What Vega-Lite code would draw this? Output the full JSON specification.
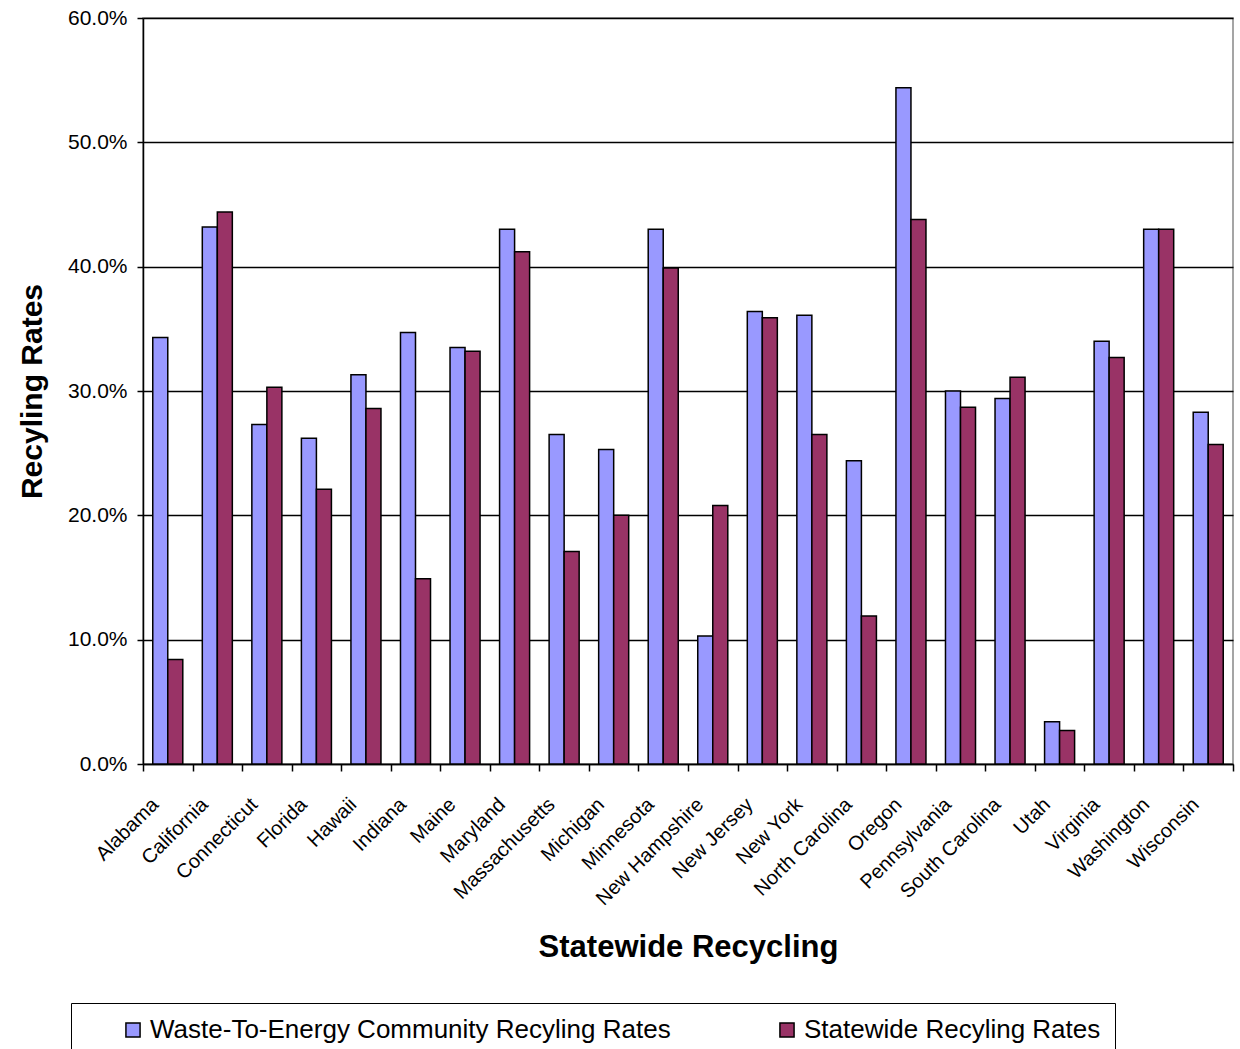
{
  "$schema": "https://vega.github.io/schema/vega-lite/v6.json",
  "autosize": {"type": "none"},
  "width": 1090,
  "height": 746,
  "padding": {"left": 143, "top": 18, "right": 7, "bottom": 285},
  "background": "white",
  "config": {
    "font": "Liberation Sans",
    "view": {"stroke": "#888888", "strokeWidth": 1.5}
  },
  "data": {
    "values": [
      {"state": "Alabama", "series": "Waste-To-Energy Community Recyling Rates", "rate": 0.343},
      {"state": "Alabama", "series": "Statewide Recyling Rates", "rate": 0.084},
      {"state": "California", "series": "Waste-To-Energy Community Recyling Rates", "rate": 0.432},
      {"state": "California", "series": "Statewide Recyling Rates", "rate": 0.444},
      {"state": "Connecticut", "series": "Waste-To-Energy Community Recyling Rates", "rate": 0.273},
      {"state": "Connecticut", "series": "Statewide Recyling Rates", "rate": 0.303},
      {"state": "Florida", "series": "Waste-To-Energy Community Recyling Rates", "rate": 0.262},
      {"state": "Florida", "series": "Statewide Recyling Rates", "rate": 0.221},
      {"state": "Hawaii", "series": "Waste-To-Energy Community Recyling Rates", "rate": 0.313},
      {"state": "Hawaii", "series": "Statewide Recyling Rates", "rate": 0.286},
      {"state": "Indiana", "series": "Waste-To-Energy Community Recyling Rates", "rate": 0.347},
      {"state": "Indiana", "series": "Statewide Recyling Rates", "rate": 0.149},
      {"state": "Maine", "series": "Waste-To-Energy Community Recyling Rates", "rate": 0.335},
      {"state": "Maine", "series": "Statewide Recyling Rates", "rate": 0.332},
      {"state": "Maryland", "series": "Waste-To-Energy Community Recyling Rates", "rate": 0.430},
      {"state": "Maryland", "series": "Statewide Recyling Rates", "rate": 0.412},
      {"state": "Massachusetts", "series": "Waste-To-Energy Community Recyling Rates", "rate": 0.265},
      {"state": "Massachusetts", "series": "Statewide Recyling Rates", "rate": 0.171},
      {"state": "Michigan", "series": "Waste-To-Energy Community Recyling Rates", "rate": 0.253},
      {"state": "Michigan", "series": "Statewide Recyling Rates", "rate": 0.200},
      {"state": "Minnesota", "series": "Waste-To-Energy Community Recyling Rates", "rate": 0.430},
      {"state": "Minnesota", "series": "Statewide Recyling Rates", "rate": 0.399},
      {"state": "New Hampshire", "series": "Waste-To-Energy Community Recyling Rates", "rate": 0.103},
      {"state": "New Hampshire", "series": "Statewide Recyling Rates", "rate": 0.208},
      {"state": "New Jersey", "series": "Waste-To-Energy Community Recyling Rates", "rate": 0.364},
      {"state": "New Jersey", "series": "Statewide Recyling Rates", "rate": 0.359},
      {"state": "New York", "series": "Waste-To-Energy Community Recyling Rates", "rate": 0.361},
      {"state": "New York", "series": "Statewide Recyling Rates", "rate": 0.265},
      {"state": "North Carolina", "series": "Waste-To-Energy Community Recyling Rates", "rate": 0.244},
      {"state": "North Carolina", "series": "Statewide Recyling Rates", "rate": 0.119},
      {"state": "Oregon", "series": "Waste-To-Energy Community Recyling Rates", "rate": 0.544},
      {"state": "Oregon", "series": "Statewide Recyling Rates", "rate": 0.438},
      {"state": "Pennsylvania", "series": "Waste-To-Energy Community Recyling Rates", "rate": 0.300},
      {"state": "Pennsylvania", "series": "Statewide Recyling Rates", "rate": 0.287},
      {"state": "South Carolina", "series": "Waste-To-Energy Community Recyling Rates", "rate": 0.294},
      {"state": "South Carolina", "series": "Statewide Recyling Rates", "rate": 0.311},
      {"state": "Utah", "series": "Waste-To-Energy Community Recyling Rates", "rate": 0.034},
      {"state": "Utah", "series": "Statewide Recyling Rates", "rate": 0.027},
      {"state": "Virginia", "series": "Waste-To-Energy Community Recyling Rates", "rate": 0.340},
      {"state": "Virginia", "series": "Statewide Recyling Rates", "rate": 0.327},
      {"state": "Washington", "series": "Waste-To-Energy Community Recyling Rates", "rate": 0.430},
      {"state": "Washington", "series": "Statewide Recyling Rates", "rate": 0.430},
      {"state": "Wisconsin", "series": "Waste-To-Energy Community Recyling Rates", "rate": 0.283},
      {"state": "Wisconsin", "series": "Statewide Recyling Rates", "rate": 0.257}
    ]
  },
  "mark": {"type": "bar", "stroke": "black", "strokeWidth": 1.5},
  "encoding": {
    "x": {
      "field": "state",
      "type": "nominal",
      "sort": null,
      "scale": {"paddingInner": 0, "paddingOuter": 0},
      "axis": {
        "title": "Statewide Recycling",
        "titleFontSize": 31,
        "titleFontWeight": "bold",
        "titleColor": "black",
        "titlePadding": 24,
        "labelAngle": -45,
        "labelAlign": "right",
        "labelBaseline": "top",
        "labelFontSize": 20,
        "labelColor": "black",
        "labelPadding": 23,
        "labelOffset": -20,
        "tickBand": "extent",
        "tickColor": "black",
        "tickSize": 7,
        "tickWidth": 1.5,
        "domainColor": "black",
        "domainWidth": 1.5,
        "grid": false
      }
    },
    "xOffset": {
      "field": "series",
      "type": "nominal",
      "sort": ["Waste-To-Energy Community Recyling Rates", "Statewide Recyling Rates"],
      "scale": {"paddingOuter": 0.65, "paddingInner": 0}
    },
    "y": {
      "field": "rate",
      "type": "quantitative",
      "scale": {"domain": [0, 0.6], "nice": false},
      "axis": {
        "title": "Recyling Rates",
        "titleFontSize": 30,
        "titleFontWeight": "bold",
        "titleColor": "black",
        "titlePadding": 20,
        "format": ".1%",
        "values": [0, 0.1, 0.2, 0.3, 0.4, 0.5, 0.6],
        "labelFontSize": 21,
        "labelColor": "black",
        "labelPadding": 10,
        "tickColor": "black",
        "tickSize": 6,
        "tickWidth": 1.5,
        "domainColor": "black",
        "domainWidth": 1.5,
        "grid": true,
        "gridColor": "black",
        "gridWidth": 1.5,
        "gridOpacity": 1
      }
    },
    "color": {
      "field": "series",
      "type": "nominal",
      "sort": ["Waste-To-Energy Community Recyling Rates", "Statewide Recyling Rates"],
      "scale": {"range": ["#9999FF", "#993366"]},
      "legend": {
        "title": null,
        "orient": "none",
        "legendX": -72,
        "legendY": 985,
        "direction": "horizontal",
        "columns": 2,
        "columnPadding": 68,
        "padding": 14,
        "strokeColor": "black",
        "symbolType": "square",
        "symbolSize": 200,
        "symbolStrokeColor": "black",
        "symbolStrokeWidth": 1.5,
        "symbolOffset": 35,
        "labelFontSize": 26,
        "labelColor": "black",
        "labelLimit": 800,
        "labelOffset": 4
      }
    }
  }
}
